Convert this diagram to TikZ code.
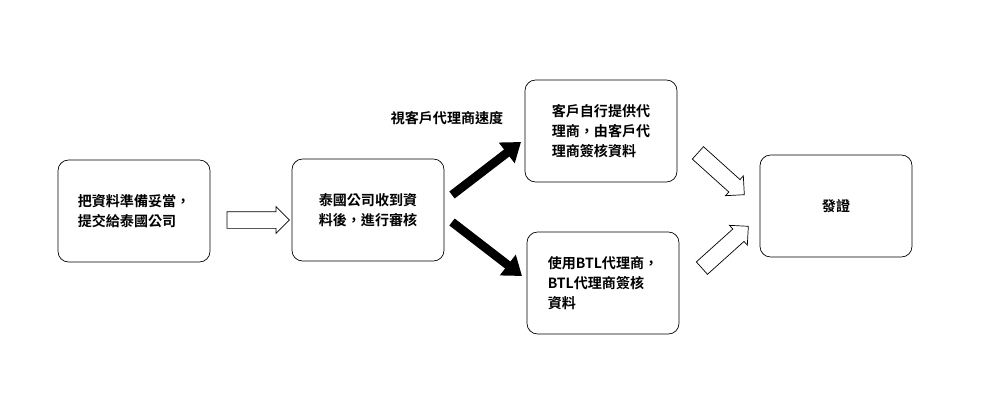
\documentclass[tikz,border=0pt]{standalone}
\usepackage{fontspec}
\setmainfont{Noto Sans CJK TC}[BoldFont={* Bold}]
\usetikzlibrary{shapes.arrows, arrows.meta}
\tikzset{
  stepbox/.style={draw=black, rounded corners=6pt, minimum width=3.04cm, minimum height=2.04cm, align=left, font=\bfseries\fontsize{8}{11.5}\selectfont},
  hollowarrow/.style={draw=black, fill=white, single arrow, single arrow head extend=0.1cm, single arrow head indent=0cm, minimum height=1.25cm, inner sep=0.16cm},
  thickarrow/.style={line width=5pt, -{Triangle[length=0.36cm, width=0.5cm]}}
}
\begin{document}
\begin{tikzpicture}[x=0.02cm, y=-0.02cm]
    \useasboundingbox (0,0) rectangle (990,403);

    \node[stepbox] (prepare) at (134, 211) {把資料準備妥當，\\提交給泰國公司};
    \node[stepbox] (review)  at (368, 210) {泰國公司收到資\\料後，進行審核};
    \node[stepbox] (client)  at (601, 131) {客戶自行提供代\\理商，由客戶代\\理商簽核資料};
    \node[stepbox] (btl)     at (603, 283) {使用BTL代理商，\\BTL代理商簽核\\資料};
    \node[stepbox, align=center] (cert) at (836, 206) {發證};

    \node[font=\bfseries\fontsize{8}{10}\selectfont] (speed) at (447, 118) {視客戶代理商速度};

    \node[hollowarrow] (a_submit) at (254, 220) {};
    \node[hollowarrow, rotate=-42] (a_client) at (718, 171) {};
    \node[hollowarrow, rotate=42]  (a_btl)    at (722, 250) {};

    \coordinate (r_up) at (452, 195);
    \coordinate (r_dn) at (452, 222);
    \coordinate (c_in) at (521, 142);
    \coordinate (b_in) at (522, 276);
    \draw[thickarrow] (r_up) -- (c_in);
    \draw[thickarrow] (r_dn) -- (b_in);
\end{tikzpicture}
\end{document}
